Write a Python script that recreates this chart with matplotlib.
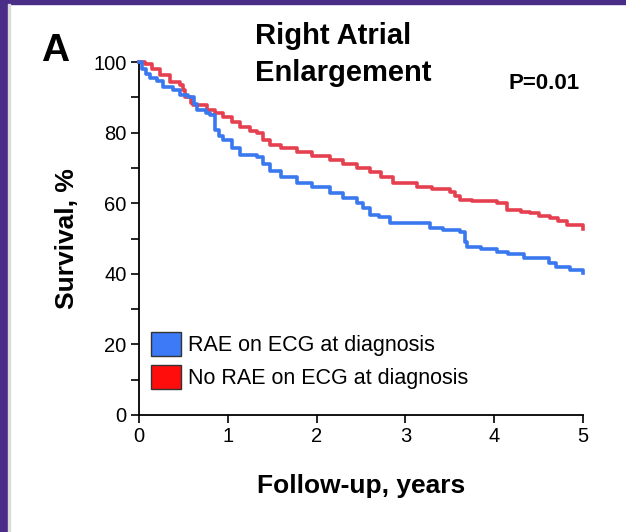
import matplotlib
matplotlib.use("Agg")
import matplotlib.pyplot as plt
from matplotlib.patches import Patch, Rectangle

plt.rcParams['font.family'] = ['Liberation Sans', 'DejaVu Sans']

# Kaplan-Meier step curves (years, survival %)
rae_t = [0, 0.03, 0.08, 0.12, 0.2, 0.27, 0.38, 0.46, 0.55, 0.62, 0.65, 0.75, 0.8,
         0.86, 0.9, 0.95, 1.05, 1.14, 1.33, 1.4, 1.48, 1.6, 1.78, 1.95, 2.15, 2.3,
         2.45, 2.52, 2.6, 2.7, 2.83, 3.28, 3.42, 3.61, 3.67, 3.69, 3.85, 4.03, 4.15,
         4.33, 4.62, 4.7, 4.85, 5.0]
rae_s = [100, 98, 96.5, 95.5, 94.5, 93, 92, 90.6, 90, 88, 86.4, 85.5, 85,
         80.7, 79, 78, 75.5, 73.7, 73, 71, 69, 67.5, 65.7, 64.5, 63, 61.5,
         60, 58.5, 56.7, 56, 54.4, 53, 52.4, 51.8, 49, 47.6, 47, 46.2, 45.5,
         44.5, 43, 42, 41, 40.2]

norae_t = [0, 0.07, 0.15, 0.24, 0.35, 0.46, 0.5, 0.52, 0.58, 0.61, 0.77, 0.86, 0.95,
           1.05, 1.14, 1.25, 1.33, 1.4, 1.48, 1.6, 1.78, 1.95, 2.15, 2.3, 2.45, 2.6,
           2.72, 2.86, 3.13, 3.3, 3.5, 3.56, 3.61, 3.75, 4.03, 4.14, 4.3, 4.4, 4.5,
           4.63, 4.72, 4.82, 5.0]
norae_s = [100, 99.5, 98, 96.3, 94.3, 93.5, 92, 90, 88.5, 87.8, 86.4, 85.5, 84.4,
           83, 81.6, 80.5, 79.9, 78, 76.5, 75.5, 74.5, 73.5, 72.2, 71, 70, 68.8,
           67.5, 65.7, 64.6, 64, 63.2, 62, 61, 60.5, 60, 58, 57.5, 57.2, 56.5,
           55.8, 55, 53.8, 52.7]

labels = ['RAE on ECG at diagnosis', 'No RAE on ECG at diagnosis']
xticks = [0, 1, 2, 3, 4, 5]
yticks = [0, 20, 40, 60, 80, 100]

W, H = 626, 532
fig = plt.figure(figsize=(W / 100, H / 100), dpi=100, facecolor='white')

# purple slide frame
fig.patches.append(Rectangle((0, 0), 8 / W, 1, transform=fig.transFigure,
                             color='#4a2d87', zorder=0))
fig.patches.append(Rectangle((0, 1 - 4 / H), 1, 4 / H, transform=fig.transFigure,
                             color='#4a2d87', zorder=0))
fig.patches.append(Rectangle((8 / W, 0), 2 / W, 1 - 4 / H, transform=fig.transFigure,
                             color='#dcdcdc', zorder=0))

ax = fig.add_axes([139 / W, (H - 415) / H, (583 - 139) / W, (415 - 62) / H])
ax.step(rae_t, rae_s, where='post', color='#3a78f0', lw=2.6, clip_on=False, zorder=3)
ax.step(norae_t, norae_s, where='post', color='#e5404f', lw=2.6, clip_on=False, zorder=2)

ax.set_xlim(0, 5)
ax.set_ylim(0, 100)
ax.set_xticks(xticks)
ax.set_yticks(yticks)
ax.set_yticks(range(10, 100, 20), minor=True)
ax.tick_params(axis='both', which='both', direction='out', length=6, width=1.2,
               labelsize=14.5, pad=3)
for s in ['top', 'right']:
    ax.spines[s].set_visible(False)
for s in ['left', 'bottom']:
    ax.spines[s].set_linewidth(1.3)

ax.set_xlabel('Follow-up, years', fontsize=19, fontweight='bold', labelpad=20)
ax.set_ylabel('Survival, %', fontsize=19, fontweight='bold', labelpad=10)

handles = [Patch(facecolor='#3c7af7', edgecolor='#333333', lw=1),
           Patch(facecolor='#ff0d0d', edgecolor='#333333', lw=1)]
ax.legend(handles, labels, loc='upper left', bbox_to_anchor=(151 / W, 1 - 332 / H),
          bbox_transform=fig.transFigure, frameon=False, fontsize=15.5,
          borderpad=0, borderaxespad=0, handlelength=1.4, handleheight=1.35,
          handletextpad=0.3, labelspacing=0.4)

fig.text(255 / W, 1 - 22 / H, 'Right Atrial\nEnlargement', ha='left', va='top',
         fontsize=21, fontweight='bold', linespacing=1.4)
fig.text(41 / W, 1 - 33 / H, 'A', ha='left', va='top', fontsize=28, fontweight='bold')
fig.text(508 / W, 1 - 73 / H, 'P=0.01', ha='left', va='top', fontsize=16, fontweight='bold')

fig.savefig('out.png', dpi=100, facecolor=fig.get_facecolor())
